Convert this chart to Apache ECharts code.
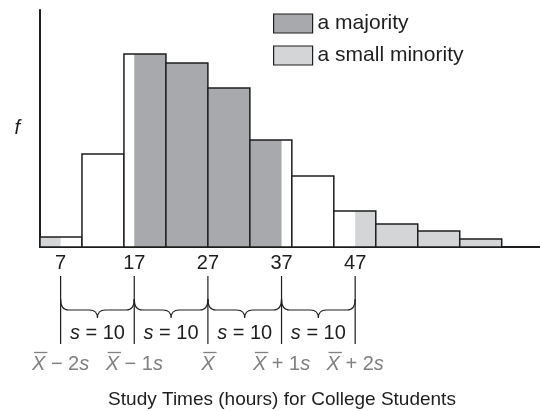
<!DOCTYPE html>
<html>
<head>
<meta charset="utf-8">
<script src="https://cdn.jsdelivr.net/npm/echarts@6/dist/echarts.min.js"></script>
<style>html,body{margin:0;padding:0;background:#fff}#c{width:540px;height:411px}</style>
</head>
<body>
<div id="c"></div>
<script>
// ---- data ----
const binStart = [4.2, 9.9, 15.6, 21.3, 27.0, 32.7, 38.4, 44.1, 49.8, 55.5, 61.2];
const binEnd   = [9.9, 15.6, 21.3, 27.0, 32.7, 38.4, 44.1, 49.8, 55.5, 61.2, 66.9];
const frequency = [10, 93, 193, 184, 159, 107, 71, 36, 23, 16, 8];
const mean = 27;
const sd = 10;
const tickValues = [7, 17, 27, 37, 47];
const sdMultiples = [-2, -1, 0, 1, 2];
const legendNames = ['a majority', 'a small minority'];
const xTitle = 'Study Times (hours) for College Students';

// ---- styles ----
const DARK = '#a8a9ac', LIGHT = '#d4d5d7', INK = '#1e1e1e', GRAY = '#808080';
const FONT = '"Liberation Sans", Arial, sans-serif';
const FS = 20;

const mctx = document.createElement('canvas').getContext('2d');
function measure(t, italic) { mctx.font = (italic ? 'italic ' : '') + FS + 'px ' + FONT; return mctx.measureText(t).width; }

const chart = echarts.init(document.getElementById('c'), null, {renderer: 'canvas'});

function renderBar(params, api) {
  const x0 = api.value(0), x1 = api.value(1), h = api.value(2);
  const yb = api.coord([x0, 0])[1], yt = api.coord([x0, h])[1];
  const rect = (a, b, style) => {
    const pa = api.coord([a, 0])[0], pb = api.coord([b, 0])[0];
    return {type: 'rect', shape: {x: pa, y: yt, width: pb - pa, height: yb - yt}, style: style};
  };
  const ch = [rect(x0, x1, {fill: '#fff'})];
  const lo = mean - 2 * sd, hi = mean + 2 * sd;
  if (x0 < lo) ch.push(rect(x0, Math.min(x1, lo), {fill: LIGHT}));
  if (x1 > hi) ch.push(rect(Math.max(x0, hi), x1, {fill: LIGHT}));
  const a = Math.max(x0, mean - sd), b = Math.min(x1, mean + sd);
  if (b > a) ch.push(rect(a, b, {fill: DARK}));
  ch.push(rect(x0, x1, {fill: 'none', stroke: INK, lineWidth: 1.5}));
  return {type: 'group', children: ch};
}

function renderNotes(params, api) {
  const i = params.dataIndex;
  const v = api.value(0), k = api.value(1);
  const p = api.coord([v, 0]);
  const x = p[0], y0 = p[1];
  const ch = [];
  ch.push({type: 'line', shape: {x1: x, y1: y0 + 29, x2: x, y2: y0 + 97}, style: {stroke: INK, lineWidth: 1.2}});
  if (i < tickValues.length - 1) {
    const xb = api.coord([tickValues[i + 1], 0])[0];
    const xm = (x + xb) / 2, r = 8;
    const yT = y0 + 52, yM = y0 + 63, yP = y0 + 71;
    const path = `M${x} ${yT} Q${x} ${yM} ${x + r} ${yM} L${xm - r} ${yM} Q${xm} ${yM} ${xm} ${yP} Q${xm} ${yM} ${xm + r} ${yM} L${xb - r} ${yM} Q${xb} ${yM} ${xb} ${yT}`;
    ch.push({type: 'path', shape: {pathData: path}, style: {fill: 'none', stroke: INK, lineWidth: 1.2}});
    ch.push({type: 'text', x: xm, y: y0 + 86, style: {
      text: '{i|s} = ' + sd, align: 'center', verticalAlign: 'middle', fill: INK, fontSize: FS, fontFamily: FONT,
      rich: {i: {fontStyle: 'italic', fontSize: FS, fontFamily: FONT, fill: INK}}
    }});
  }
  // mean label: X-bar +/- k s
  const parts = [{t: 'X', it: true}];
  if (k !== 0) {
    parts.push({t: (k < 0 ? ' \u2212 ' : ' + ') + Math.abs(k), it: false});
    parts.push({t: 's', it: true});
  }
  parts.forEach(pt => pt.w = measure(pt.t, pt.it));
  const total = parts.reduce((s, pt) => s + pt.w, 0);
  let cx = x - total / 2;
  const yc = y0 + 117;
  parts.forEach((pt, j) => {
    ch.push({type: 'text', x: cx, y: yc, style: {text: pt.t, align: 'left', verticalAlign: 'middle', fill: GRAY,
      fontSize: FS, fontFamily: FONT, fontStyle: pt.it ? 'italic' : 'normal'}});
    if (j === 0) ch.push({type: 'line', shape: {x1: cx + 2, y1: yc - 11.5, x2: cx + pt.w + 2, y2: yc - 11.5}, style: {stroke: GRAY, lineWidth: 1.3}});
    cx += pt.w;
  });
  return {type: 'group', children: ch};
}

const barData = binStart.map((s, i) => [s, binEnd[i], frequency[i]]);
const noteData = tickValues.map((v, i) => [v, sdMultiples[i]]);

chart.setOption({
  animation: false,
  backgroundColor: '#fff',
  textStyle: {fontFamily: FONT},
  grid: {left: 40, right: 0, top: 10, bottom: 164, containLabel: false},
  title: {text: xTitle, left: 277, top: 385, textAlign: 'center',
    textStyle: {fontSize: 19, fontWeight: 'normal', color: INK, fontFamily: FONT}},
  legend: {
    orient: 'vertical', left: 268, top: 8, itemWidth: 39, itemHeight: 19, itemGap: 11,
    icon: 'rect',
    textStyle: {fontSize: 21, color: INK, fontFamily: FONT},
    itemStyle: {borderColor: INK, borderWidth: 1.2},
    data: [{name: legendNames[0], itemStyle: {color: DARK}}, {name: legendNames[1], itemStyle: {color: LIGHT}}],
    selectedMode: false
  },
  xAxis: {
    type: 'value', min: 4.2, max: 72.1,
    axisLine: {show: true, onZero: false, lineStyle: {color: INK, width: 2}},
    axisTick: {show: false}, splitLine: {show: false},
    axisLabel: {customValues: tickValues, fontSize: FS, color: INK, margin: 6, fontFamily: FONT}
  },
  yAxis: {
    type: 'value', min: 0, max: 237,
    name: 'f', nameLocation: 'middle', nameGap: 20, nameRotate: 0,
    nameTextStyle: {fontStyle: 'italic', fontSize: FS, color: INK, fontFamily: FONT},
    axisLine: {show: true, lineStyle: {color: INK, width: 2}},
    axisTick: {show: false}, axisLabel: {show: false}, splitLine: {show: false}
  },
  series: [
    {type: 'custom', name: 'bars', renderItem: renderBar, data: barData, encode: {x: [0, 1], y: 2}, z: 2},
    {type: 'custom', name: 'notes', renderItem: renderNotes, data: noteData, encode: {x: 0}, clip: false, silent: true, z: 3},
    {type: 'bar', name: legendNames[0], data: [], itemStyle: {color: DARK}},
    {type: 'bar', name: legendNames[1], data: [], itemStyle: {color: LIGHT}}
  ]
});
</script>
</body>
</html>
